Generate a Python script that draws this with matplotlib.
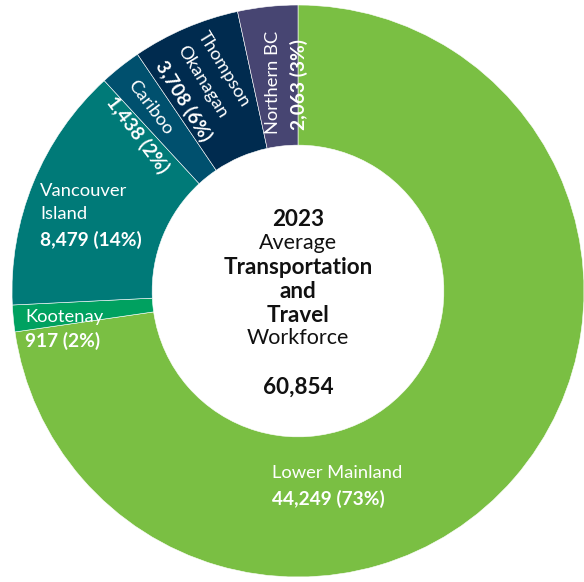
import matplotlib
matplotlib.use("Agg")
import matplotlib.pyplot as plt

regions = ["Lower Mainland", "Kootenay", "Vancouver Island", "Cariboo", "Thompson Okanagan", "Northern BC"]
values = [44249, 917, 8479, 1438, 3708, 2063]
colors = ["#7abf43", "#00a160", "#007a78", "#00506e", "#002b4f", "#474572"]
total_label = "60,854"

plt.rcParams['font.family'] = ['Lato', 'DejaVu Sans']

W, H = 584, 582
CX, CY, R = 298, 291, 286
fig = plt.figure(figsize=(W / 100, H / 100), dpi=100)
ax = fig.add_axes([0, 0, 1, 1])
ax.pie(values, colors=colors, startangle=90, counterclock=False, radius=1,
       wedgeprops=dict(width=0.49, edgecolor="white", linewidth=0.4))
ax.set_xlim(-CX / R, (W - CX) / R)
ax.set_ylim((CY - H) / R, CY / R)
ax.set_aspect('equal')
ax.axis('off')


def P(x, y):
    return ((x - CX) / R, (CY - y) / R)


def t(x, y, s, bold=False, size=13.2, color="white", ha="left", rot=0, va="center"):
    if bold and size == 13.2:
        size = 13.8
    ax.text(*P(x, y), s, fontsize=size, color=color, ha=ha, va=va,
            fontweight="bold" if bold else "normal", rotation=rot, rotation_mode="anchor")


def pct(v):
    return f"{v:,} ({round(100 * v / sum(values))}%)"


# straight labels
t(272, 473, "Lower Mainland")
t(272, 499, pct(values[0]), bold=True)
t(40, 191, "Vancouver")
t(40, 214, "Island")
t(40, 240, pct(values[2]), bold=True)
t(25, 317, "Kootenay")
t(25, 341, pct(values[1]), bold=True)

# rotated labels
t(150, 107, "Cariboo", ha="center", rot=-53)
t(138, 135, pct(values[3]), bold=True, ha="center", rot=-53)
t(224, 69, "Thompson", ha="center", rot=-58.5)
t(202, 82, "Okanagan", ha="center", rot=-58.5)
t(183, 101, pct(values[4]), bold=True, ha="center", rot=-58.5)
t(273, 82, "Northern BC", ha="center", rot=90)
t(299, 84, pct(values[5]), bold=True, ha="center", rot=90)

# center text
dark = "#111111"
cs = 15.5
cb = 16.2
t(298, 220, "2023", bold=True, ha="center", color=dark, size=cb)
t(298, 243, "Average", ha="center", color=dark, size=cs)
t(298, 267, "Transportation", bold=True, ha="center", color=dark, size=cb)
t(298, 292, "and", bold=True, ha="center", color=dark, size=cb)
t(298, 315, "Travel", bold=True, ha="center", color=dark, size=cb)
t(298, 338, "Workforce", ha="center", color=dark, size=cs)
t(298, 387, total_label, bold=True, ha="center", color=dark, size=cb)

fig.savefig("out.png", dpi=100)
